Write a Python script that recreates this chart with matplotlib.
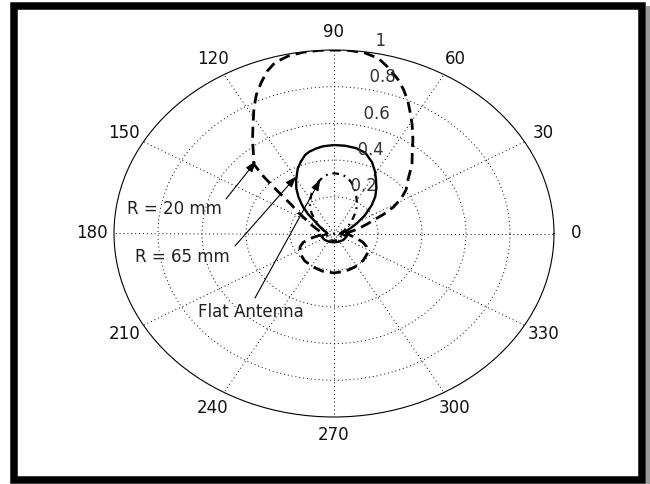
import numpy as np
import matplotlib
matplotlib.use("Agg")
import matplotlib.pyplot as plt
from matplotlib.patches import Rectangle

# ---------------- data ----------------
# R = 20 mm (thick dashed): angle in degrees, normalised gain
r20_theta = [0, 5, 10, 15, 19, 22, 25, 28, 32, 36, 41, 44, 47, 51, 55, 59, 62, 65, 68, 71,
             75, 78, 82, 86, 90, 94, 98, 102, 106, 109, 112, 115, 118, 122, 126, 130, 134,
             136, 138, 141, 145, 149, 155, 162, 170, 180, 187, 193, 199, 205, 214, 228,
             243, 256, 270, 284, 297, 312, 326, 334, 340, 347, 354, 360]
r20_r = [0.05, 0.065, 0.09, 0.125, 0.16, 0.195, 0.25, 0.305, 0.36, 0.405, 0.445, 0.48, 0.52,
         0.565, 0.625, 0.69, 0.74, 0.795, 0.845, 0.89, 0.94, 0.975, 0.995, 1.0, 1.0, 1.0,
         0.998, 0.99, 0.97, 0.935, 0.885, 0.835, 0.775, 0.695, 0.63, 0.57, 0.525, 0.44,
         0.345, 0.25, 0.195, 0.15, 0.115, 0.085, 0.065, 0.05, 0.06, 0.10, 0.148, 0.17,
         0.188, 0.20, 0.206, 0.212, 0.215, 0.212, 0.206, 0.198, 0.186, 0.165, 0.14, 0.10,
         0.07, 0.05]

# R = 65 mm (solid)
r65_theta = [0, 8, 15, 22, 28, 35, 42, 47, 52, 57, 61, 66, 72, 78, 84, 90, 96, 100, 104,
             107, 111, 115, 118, 121, 125, 129, 133, 138, 143, 150, 160, 170, 180,
             195, 220, 245, 270, 295, 320, 345, 360]
r65_r = [0.03, 0.04, 0.06, 0.085, 0.117, 0.17, 0.231, 0.275, 0.313, 0.35, 0.385, 0.425,
         0.462, 0.476, 0.481, 0.482, 0.478, 0.47, 0.46, 0.448, 0.42, 0.39, 0.36, 0.335,
         0.298, 0.257, 0.214, 0.16, 0.107, 0.075, 0.05, 0.035, 0.03,
         0.06, 0.055, 0.05, 0.048, 0.05, 0.055, 0.06, 0.03]

# Flat antenna (dash-dot)
flat_theta = [0, 10, 20, 28, 37, 44, 50, 56, 62, 67, 72, 76, 80, 85, 90, 95, 100, 104, 109,
              115, 121, 127, 133, 139, 148, 160, 170, 180, 210, 240, 270, 300, 330, 360]
flat_r = [0.03, 0.035, 0.05, 0.068, 0.092, 0.12, 0.154, 0.187, 0.218, 0.25, 0.278, 0.298,
          0.315, 0.325, 0.328, 0.324, 0.308, 0.291, 0.268, 0.241, 0.21, 0.182, 0.148, 0.114,
          0.08, 0.05, 0.035, 0.03, 0.035, 0.04, 0.04, 0.04, 0.035, 0.03]

angle_ticks = list(range(0, 360, 30))
radial_ticks = [0.2, 0.4, 0.6, 0.8, 1.0]
radial_labels = ["0.2", "0.4", "0.6", "0.8", "1"]
series_labels = ["R = 20 mm", "R = 65 mm", "Flat Antenna"]

# ---------------- figure ----------------
plt.rcParams['font.family'] = ['DejaVu Sans']
W, H = 650, 484
fig = plt.figure(figsize=(W / 100, H / 100), dpi=100)
fig.patch.set_facecolor('white')


def fx(px):
    return px / W


def fy(py):
    return 1 - py / H


# polar axes stretched into an ellipse (like the reference)
ax = fig.add_axes([fx(114), fy(417), fx(554) - fx(114), fy(50) - fy(417)], projection='polar')
ax.set_aspect('auto')
ax.set_ylim(0, 1)
ax.set_thetagrids(angle_ticks, labels=[])
ax.set_rgrids(radial_ticks[:-1], labels=[])
ax.grid(True, color='k', linestyle=(0, (1, 3)), linewidth=0.7)
ax.tick_params(length=0)
ax.spines['polar'].set_linewidth(0.8)
ax.spines['polar'].set_color('k')

th = lambda a: np.deg2rad(np.asarray(a, dtype=float))

ax.plot(th(r20_theta), r20_r, color='k', lw=2.0, linestyle=(0, (4.0, 2.2)))
ax.plot(th(r65_theta), r65_r, color='k', lw=1.7, linestyle='-')
ax.plot(th(flat_theta), flat_r, color='k', lw=1.6, linestyle=(0, (3.0, 2.2, 0.8, 2.2)))

# angle labels
for a in angle_ticks:
    ax.text(np.deg2rad(a), 1.1, str(a), ha='center', va='center', fontsize=12, color='#111111')

# radial labels (MATLAB style at 82 deg)
for rv, lab in zip(radial_ticks, radial_labels):
    ax.text(np.deg2rad(82), rv + 0.01, '  ' + lab, ha='left', va='bottom', fontsize=12,
            color='#333333')

# annotations
arrow = dict(arrowstyle='-|>,head_length=0.55,head_width=0.2', lw=0.8, color='k',
             mutation_scale=12, shrinkA=0, shrinkB=0)
fig.text(fx(127), fy(209), series_labels[0], ha='left', va='center', fontsize=12, color='#222222')
ax.annotate('', xy=(np.deg2rad(132), 0.53), xycoords='data',
            xytext=(fx(226), fy(199)), textcoords='figure fraction', arrowprops=arrow)
fig.text(fx(135), fy(257), series_labels[1], ha='left', va='center', fontsize=12, color='#222222')
ax.annotate('', xy=(np.deg2rad(119), 0.355), xycoords='data',
            xytext=(fx(235), fy(246)), textcoords='figure fraction', arrowprops=arrow)
fig.text(fx(198), fy(312), series_labels[2], ha='left', va='center', fontsize=12, color='#222222')
ax.annotate('', xy=(np.deg2rad(102), 0.30), xycoords='data',
            xytext=(fx(255), fy(298)), textcoords='figure fraction', arrowprops=arrow)

# black frame + shadow
fig.patches.append(Rectangle((fx(646), 0), fx(650) - fx(646), fy(6), transform=fig.transFigure,
                             facecolor='#9a9a9a', edgecolor='none', zorder=0))
fig.patches.append(Rectangle((fx(14), fy(480)), fx(642) - fx(14), fy(6) - fy(480),
                             transform=fig.transFigure, fill=False, edgecolor='k',
                             linewidth=7.5 * 72 / 100, zorder=10))

fig.savefig('out.png', dpi=100, facecolor='white')
